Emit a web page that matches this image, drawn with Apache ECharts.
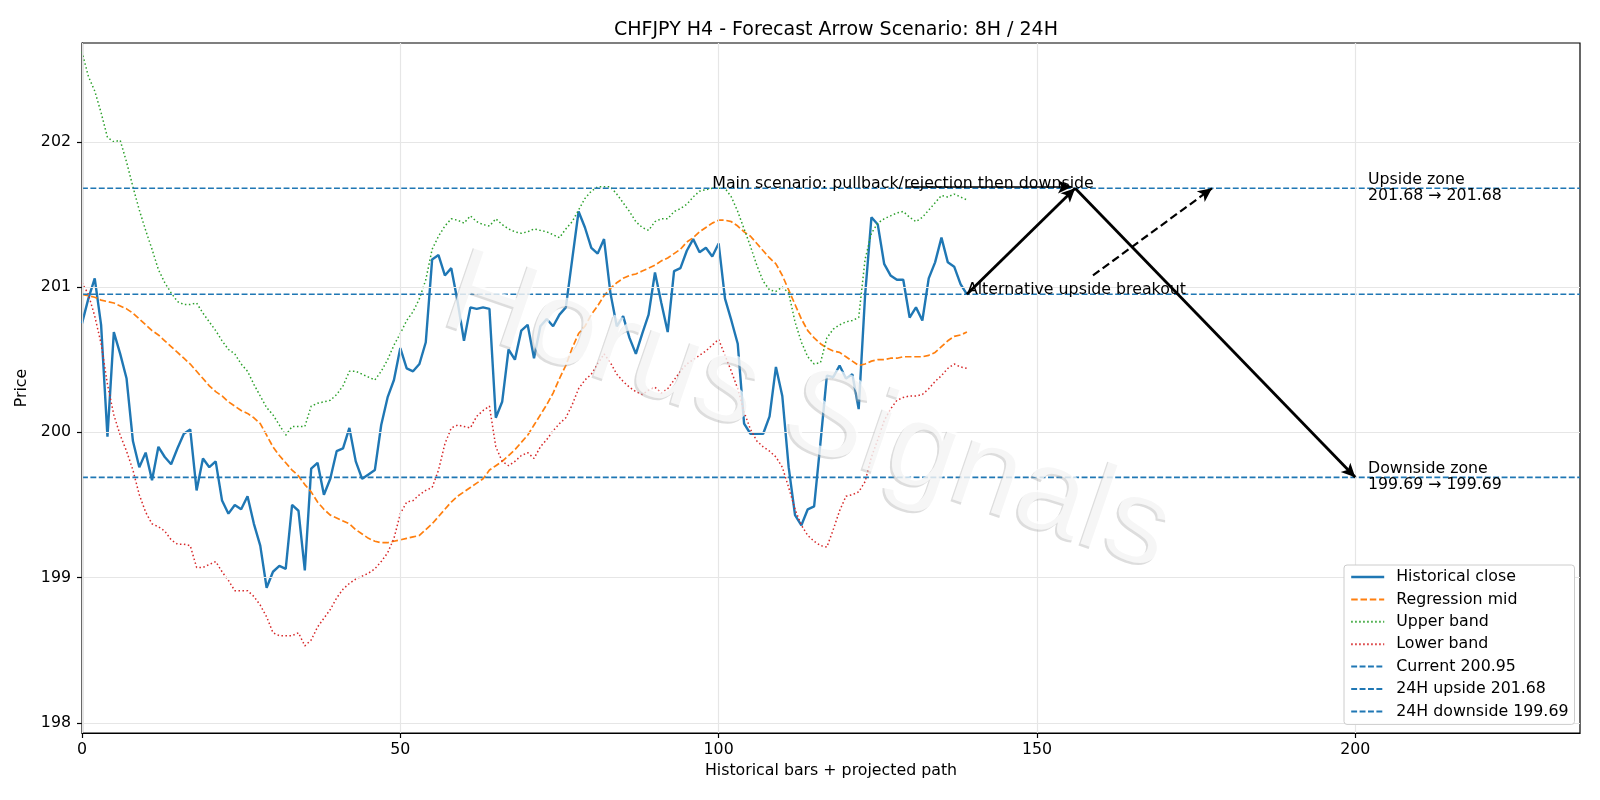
<!DOCTYPE html>
<html>
<head>
<meta charset="utf-8">
<title>CHFJPY H4 - Forecast Arrow Scenario</title>
<script src="https://cdn.jsdelivr.net/npm/echarts@6.0.0/dist/echarts.min.js"></script>
<style>
  html, body { margin: 0; padding: 0; background: #fff; }
  #chart { width: 1600px; height: 800px; }
</style>
</head>
<body>
<div id="chart"></div>
<script>
// values, one per bar (0..139)
var closeSeries = [
  200.75, 200.92, 201.06, 200.74, 199.97, 200.69, 200.54, 200.37, 199.94, 199.76,
  199.86, 199.67, 199.90, 199.83, 199.78, 199.89, 199.99, 200.02, 199.60, 199.82,
  199.76, 199.80, 199.53, 199.44, 199.50, 199.47, 199.56, 199.37, 199.22, 198.93,
  199.04, 199.08, 199.06, 199.50, 199.46, 199.05, 199.75, 199.79, 199.57, 199.68,
  199.87, 199.89, 200.03, 199.80, 199.68, 199.71, 199.74, 200.05, 200.24, 200.36,
  200.58, 200.44, 200.42, 200.47, 200.62, 201.19, 201.22, 201.08, 201.13, 200.90,
  200.63, 200.86, 200.85, 200.86, 200.85, 200.10, 200.21, 200.57, 200.50, 200.70,
  200.74, 200.51, 200.73, 200.78, 200.73, 200.81, 200.86, 201.19, 201.52, 201.41,
  201.27, 201.23, 201.33, 200.96, 200.73, 200.80, 200.65, 200.54, 200.68, 200.81,
  201.10, 200.89, 200.69, 201.11, 201.13, 201.25, 201.33, 201.24, 201.27, 201.21,
  201.30, 200.92, 200.77, 200.61, 200.06, 199.99, 199.99, 199.99, 200.11, 200.45,
  200.25, 199.76, 199.43, 199.36, 199.47, 199.49, 199.93, 200.39, 200.38, 200.46,
  200.37, 200.40, 200.16, 200.94, 201.48, 201.43, 201.16, 201.08, 201.05, 201.05,
  200.79, 200.86, 200.77, 201.06, 201.17, 201.34, 201.17, 201.14, 201.02, 200.95
];
var midSeries = [
  200.95, 200.94, 200.93, 200.91, 200.90, 200.89, 200.87, 200.85, 200.82, 200.78,
  200.74, 200.70, 200.67, 200.63, 200.59, 200.55, 200.51, 200.47, 200.42, 200.37,
  200.32, 200.28, 200.25, 200.21, 200.18, 200.15, 200.13, 200.10, 200.06, 199.98,
  199.90, 199.84, 199.79, 199.74, 199.70, 199.64, 199.59, 199.52, 199.47, 199.43,
  199.41, 199.39, 199.37, 199.33, 199.30, 199.27, 199.25, 199.24, 199.24, 199.25,
  199.26, 199.27, 199.28, 199.29, 199.33, 199.37, 199.42, 199.47, 199.52, 199.56,
  199.59, 199.62, 199.65, 199.68, 199.74, 199.77, 199.80, 199.84, 199.88, 199.93,
  199.98, 200.05, 200.12, 200.19, 200.27, 200.37, 200.46, 200.58, 200.68, 200.73,
  200.81, 200.87, 200.94, 200.99, 201.03, 201.06, 201.08, 201.09, 201.11, 201.13,
  201.15, 201.18, 201.20, 201.23, 201.26, 201.31, 201.34, 201.38, 201.41, 201.44,
  201.46, 201.46, 201.45, 201.42, 201.38, 201.35, 201.30, 201.25, 201.20, 201.16,
  201.08, 200.98, 200.88, 200.78, 200.70, 200.65, 200.61, 200.58, 200.56, 200.55,
  200.52, 200.49, 200.46, 200.47, 200.49, 200.50, 200.50, 200.51, 200.51, 200.52,
  200.52, 200.52, 200.52, 200.53, 200.55, 200.59, 200.63, 200.66, 200.67, 200.69
];
var upperSeries = [
  202.62, 202.45, 202.35, 202.20, 202.03, 202.00, 202.01, 201.86, 201.69, 201.53,
  201.39, 201.26, 201.12, 201.03, 200.96, 200.90, 200.88, 200.88, 200.89, 200.82,
  200.76, 200.70, 200.63, 200.57, 200.54, 200.47, 200.42, 200.33, 200.25, 200.17,
  200.12, 200.05, 199.98, 200.04, 200.04, 200.04, 200.18, 200.20, 200.21, 200.22,
  200.26, 200.32, 200.42, 200.42, 200.40, 200.38, 200.36, 200.42, 200.50, 200.60,
  200.68, 200.77, 200.83, 200.92, 201.05, 201.26, 201.35, 201.42, 201.47, 201.46,
  201.44, 201.49, 201.45, 201.43, 201.42, 201.47, 201.43, 201.40, 201.38, 201.37,
  201.38, 201.40, 201.39, 201.38, 201.36, 201.34, 201.40, 201.45, 201.53, 201.61,
  201.66, 201.69, 201.69, 201.69, 201.64, 201.58, 201.52, 201.45, 201.41, 201.39,
  201.45, 201.47, 201.47, 201.52, 201.54, 201.57, 201.62, 201.66, 201.67, 201.68,
  201.68, 201.68, 201.62, 201.52, 201.40, 201.28, 201.15, 201.04, 200.98, 200.97,
  201.00, 200.96, 200.76, 200.62, 200.52, 200.47, 200.48, 200.65, 200.71, 200.74,
  200.76, 200.77, 200.79, 201.19, 201.37, 201.44, 201.47, 201.49, 201.51, 201.52,
  201.48, 201.45, 201.48, 201.53, 201.58, 201.63, 201.62, 201.64, 201.62, 201.60
];
var lowerSeries = [
  201.03, 200.95, 200.80, 200.61, 200.33, 200.12, 199.98, 199.87, 199.74, 199.57,
  199.45, 199.37, 199.35, 199.32, 199.26, 199.23, 199.23, 199.22, 199.07, 199.07,
  199.09, 199.11, 199.04, 198.98, 198.91, 198.91, 198.91, 198.87, 198.81, 198.73,
  198.62, 198.60, 198.60, 198.60, 198.62, 198.53, 198.57, 198.66, 198.72, 198.78,
  198.86, 198.92, 198.96, 198.99, 199.01, 199.03, 199.06, 199.11, 199.17, 199.27,
  199.44, 199.52, 199.53, 199.57, 199.60, 199.62, 199.74, 199.92, 200.03, 200.05,
  200.04, 200.03, 200.11, 200.15, 200.18, 199.90, 199.80, 199.77, 199.80, 199.84,
  199.86, 199.82, 199.90, 199.95, 200.01, 200.06, 200.10, 200.19, 200.30, 200.36,
  200.40, 200.47, 200.54, 200.48, 200.40, 200.35, 200.31, 200.28, 200.26, 200.29,
  200.31, 200.27, 200.30, 200.36, 200.42, 200.47, 200.50, 200.53, 200.56, 200.60,
  200.64, 200.53, 200.42, 200.30, 200.14, 200.02, 199.94, 199.90, 199.87, 199.83,
  199.76, 199.62, 199.47, 199.36, 199.29, 199.25, 199.22, 199.21, 199.33, 199.46,
  199.56, 199.57, 199.59, 199.66, 199.83, 199.95, 200.08, 200.16, 200.22, 200.24,
  200.25, 200.25, 200.26, 200.30, 200.35, 200.39, 200.44, 200.47, 200.45, 200.44
];

var currentPrice = 200.95;
var upsideTarget = 201.68;
var downsideTarget = 199.69;

// projected path (arrows), in bar / price units
var mainPath = [[139, 200.95], [156, 201.68], [200, 199.69]];
var altPath = [[158.8, 201.08], [177.5, 201.68]];
var notePath = [[129.5, 201.69], [155.5, 201.69]];

var xTicks = [0, 50, 100, 150, 200];
var yTicks = [198, 199, 200, 201, 202];
var xMax = 235.3;
var yMin = 197.93, yMax = 202.68;

var FONT = '"DejaVu Sans", sans-serif';
var FS = 15.8;

function toPairs(arr) {
  var out = [];
  for (var i = 0; i < arr.length; i++) out.push([i, arr[i]]);
  return out;
}
function hline(v) {
  return [[0, v], [xMax, v]];
}
function seg(a, b, style, size) {
  var start = { coord: a };
  if (style) start.lineStyle = style;
  if (size) start.symbolSize = size;
  return [start, { coord: b }];
}

var chart = echarts.init(document.getElementById('chart'), null, { renderer: 'canvas' });

var gridLines = [];
yTicks.forEach(function (v) { gridLines.push({ yAxis: v }); });
xTicks.forEach(function (v) { gridLines.push({ xAxis: v }); });

var fmt = function (v) { return v.toFixed(2); };

var histName = 'Historical close';
var names = [histName, 'Regression mid', 'Upper band', 'Lower band',
  'Current ' + fmt(currentPrice), '24H upside ' + fmt(upsideTarget), '24H downside ' + fmt(downsideTarget)];

// annotation texts: anchor in data units, text, vertical align, pixel nudge
var notes = [
  { at: [99, upsideTarget], text: 'Main scenario: pullback/rejection then downside', va: 'bottom', dy: 4 },
  { at: [139, currentPrice], text: 'Alternative upside breakout', va: 'bottom', dy: 4 },
  { at: [202, upsideTarget], text: 'Upside zone\n' + fmt(upsideTarget) + ' \u2192 ' + fmt(upsideTarget), va: 'middle', dy: 0 },
  { at: [202, downsideTarget], text: 'Downside zone\n' + fmt(downsideTarget) + ' \u2192 ' + fmt(downsideTarget), va: 'middle', dy: 0 }
];

var option = {
  animation: false,
  backgroundColor: '#fff',
  textStyle: { fontFamily: FONT },
  title: {
    text: 'CHFJPY H4 - Forecast Arrow Scenario: 8H / 24H',
    left: 831, top: 16, textAlign: 'center',
    textStyle: { fontFamily: FONT, fontSize: 19, fontWeight: 'normal', color: '#000' }
  },
  grid: {
    left: 82, right: 20, top: 43, bottom: 67,
    show: true, borderColor: '#000', borderWidth: 1.2, backgroundColor: 'transparent'
  },
  legend: {
    orient: 'vertical',
    left: 1344, top: 565, z: 20,
    padding: [4, 6, 5, 6],
    itemWidth: 33, itemHeight: 14, itemGap: 6.4,
    itemStyle: { opacity: 0 },
    backgroundColor: '#ffffff',
    borderColor: '#cccccc', borderWidth: 1, borderRadius: 3,
    textStyle: { fontFamily: FONT, fontSize: FS, color: '#000', lineHeight: 16, padding: [0, 0, 0, 7] },
    data: names.map(function (n) {
      return n === histName ? { name: n, lineStyle: { width: 2.4 } } : { name: n };
    })
  },
  xAxis: {
    type: 'value', min: 0, max: xMax,
    name: 'Historical bars + projected path', nameLocation: 'middle', nameGap: 29,
    nameTextStyle: { fontFamily: FONT, fontSize: FS, color: '#000' },
    axisLine: { show: true, onZero: false, lineStyle: { color: '#000', width: 1.2 } },
    axisTick: { show: true, length: 5, customValues: xTicks, lineStyle: { color: '#000', width: 1.2 } },
    axisLabel: { customValues: xTicks, margin: 9, fontFamily: FONT, fontSize: FS, color: '#000' },
    splitLine: { show: false }
  },
  yAxis: {
    type: 'value', min: yMin, max: yMax,
    name: 'Price', nameLocation: 'middle', nameGap: 44,
    nameTextStyle: { fontFamily: FONT, fontSize: FS, color: '#000' },
    axisLine: { show: true, onZero: false, lineStyle: { color: '#000', width: 1.2 } },
    axisTick: { show: true, length: 5, customValues: yTicks, lineStyle: { color: '#000', width: 1.2 } },
    axisLabel: { customValues: yTicks, margin: 11, fontFamily: FONT, fontSize: FS, color: '#000' },
    splitLine: { show: false }
  },
  graphic: [
    {
      id: 'wm-shadow', type: 'text', x: 806, y: 416, rotation: -19 * Math.PI / 180, z: 100, silent: true,
      style: { text: 'Horus Signals', font: '122px "Liberation Sans", sans-serif', fill: 'rgba(170,170,170,0.4)', align: 'center', verticalAlign: 'middle' }
    },
    {
      id: 'wm', type: 'text', x: 808, y: 414, rotation: -19 * Math.PI / 180, z: 101, silent: true,
      style: { text: 'Horus Signals', font: '122px "Liberation Sans", sans-serif', fill: 'rgba(255,255,255,0.72)', align: 'center', verticalAlign: 'middle' }
    }
  ],
  series: [
    {
      // grid lines
      name: 'grid', type: 'line', data: [], z: 0, silent: true,
      markLine: {
        silent: true, symbol: 'none', label: { show: false },
        lineStyle: { color: '#e6e6e6', width: 1.2, type: 'solid' },
        data: gridLines
      }
    },
    {
      name: histName, type: 'line', data: toPairs(closeSeries), z: 3,
      symbol: 'none', lineStyle: { color: '#1f77b4', width: 2.4 }, itemStyle: { color: '#1f77b4' }
    },
    {
      name: 'Regression mid', type: 'line', data: toPairs(midSeries), z: 3,
      symbol: 'none', lineStyle: { color: '#ff7f0e', width: 1.7, type: [6.5, 2.8] }, itemStyle: { color: '#ff7f0e' }
    },
    {
      name: 'Upper band', type: 'line', data: toPairs(upperSeries), z: 3,
      symbol: 'none', lineStyle: { color: '#2ca02c', width: 1.5, type: [1.5, 2.5] }, itemStyle: { color: '#2ca02c' }
    },
    {
      name: 'Lower band', type: 'line', data: toPairs(lowerSeries), z: 3,
      symbol: 'none', lineStyle: { color: '#d62728', width: 1.5, type: [1.5, 2.5] }, itemStyle: { color: '#d62728' }
    },
    {
      name: names[4], type: 'line', data: hline(currentPrice), z: 4,
      symbol: 'none', lineStyle: { color: '#1f77b4', width: 1.6, type: [5.9, 2.5] }, itemStyle: { color: '#1f77b4' }
    },
    {
      name: names[5], type: 'line', data: hline(upsideTarget), z: 4,
      symbol: 'none', lineStyle: { color: '#1f77b4', width: 1.6, type: [5.9, 2.5] }, itemStyle: { color: '#1f77b4' }
    },
    {
      name: names[6], type: 'line', data: hline(downsideTarget), z: 4,
      symbol: 'none', lineStyle: { color: '#1f77b4', width: 1.6, type: [5.9, 2.5] }, itemStyle: { color: '#1f77b4' }
    },
    {
      // arrows of the scenario
      name: 'arrows', type: 'line', data: [], z: 5, silent: true,
      markLine: {
        silent: true, symbol: ['none', 'arrow'], symbolSize: [10, 14], label: { show: false },
        lineStyle: { color: '#000', width: 2.8, type: 'solid' },
        data: [
          seg(mainPath[0], mainPath[1]),
          seg(mainPath[1], mainPath[2]),
          seg(altPath[0], altPath[1], { type: [8, 4], width: 2.2, color: '#000' }),
          seg(notePath[0], notePath[1], { width: 1.6, color: '#000' }, [7, 10])
        ]
      }
    }
  ]
};

chart.setOption(option);

// place the annotation texts through the chart's own scales
var noteGraphics = notes.map(function (n, i) {
  var p = chart.convertToPixel({ gridIndex: 0 }, n.at);
  return {
    id: 'note' + i, type: 'text', x: p[0], y: p[1] + n.dy, z: 60, silent: true,
    style: {
      text: n.text, fill: '#000', font: FS + 'px ' + FONT, lineHeight: 16,
      align: 'left', verticalAlign: n.va
    }
  };
});
chart.setOption({ graphic: noteGraphics });
</script>
</body>
</html>
